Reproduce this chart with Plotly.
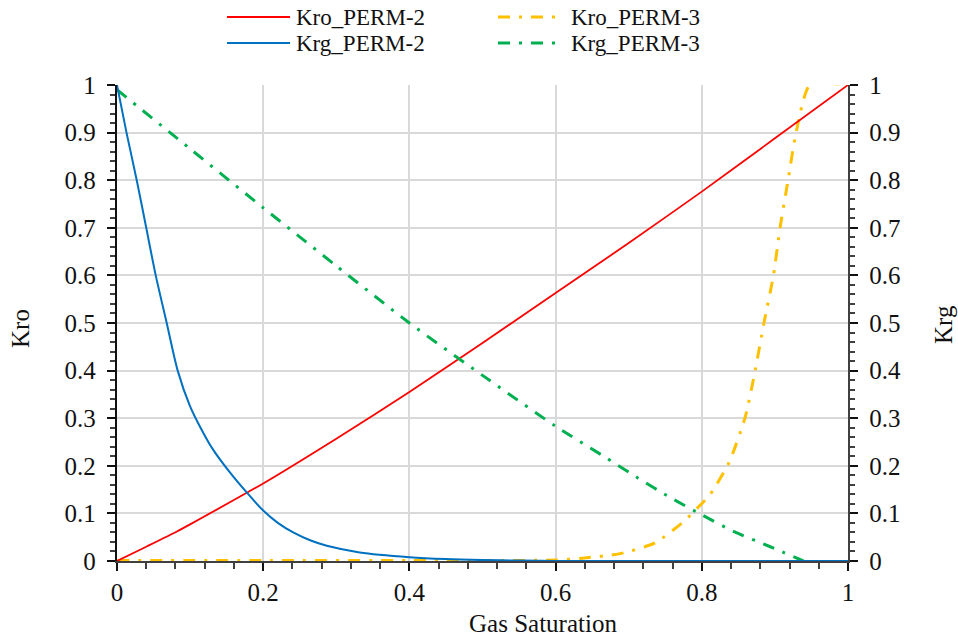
import plotly.graph_objects as go

# Gas saturation sample points and relative permeability curves
sg_kro2 = [0.0, 0.04, 0.082, 0.1, 0.2, 0.3, 0.4, 0.5, 0.6, 0.7, 0.8, 0.9, 1.0]
kro_perm2 = [0.0, 0.03, 0.062, 0.077, 0.163, 0.257, 0.355, 0.458, 0.563, 0.668, 0.776, 0.888, 1.0]

sg_krg2 = [0.0, 0.013, 0.027, 0.04, 0.053, 0.068, 0.083, 0.1, 0.115, 0.131, 0.155, 0.178, 0.2,
           0.22, 0.241, 0.265, 0.287, 0.332, 0.4, 0.45, 0.5, 0.55, 0.6, 0.7, 0.8, 0.9, 1.0]
krg_perm2 = [1.0, 0.9, 0.8, 0.7, 0.6, 0.5, 0.4, 0.325, 0.278, 0.235, 0.185, 0.143, 0.106,
             0.08, 0.06, 0.043, 0.032, 0.018, 0.008, 0.004, 0.002, 0.001, 0.0, 0.0, 0.0, 0.0, 0.0]

sg_kro3 = [0.0, 0.2, 0.4, 0.6, 0.637, 0.687, 0.736, 0.776, 0.795, 0.811, 0.837, 0.859,
           0.873, 0.885, 0.898, 0.907, 0.918, 0.929, 0.948, 1.0]
kro_perm3 = [0.001, 0.001, 0.001, 0.002, 0.006, 0.015, 0.038, 0.084, 0.113, 0.139, 0.206, 0.3,
             0.4, 0.5, 0.6, 0.7, 0.8, 0.9, 1.0, 1.0]

sg_krg3 = [0.0, 0.1, 0.2, 0.3, 0.4, 0.5, 0.6, 0.67, 0.713, 0.756, 0.8, 0.845, 0.892, 0.939]
krg_perm3 = [0.99, 0.866, 0.742, 0.62, 0.5, 0.39, 0.283, 0.216, 0.174, 0.134, 0.097, 0.061, 0.031, 0.0]

series_names = ["Kro_PERM-2", "Krg_PERM-2", "Kro_PERM-3", "Krg_PERM-3"]
colors = ["#FF0000", "#0070C0", "#FFC000", "#00B050"]

FONT = "Liberation Serif"
TICK_SIZE = 25
TEXT_SIZE = 25
LEGEND_SIZE = 23
DASHDOT = "12px,9px,3px,9px"
NBSP = "\u00a0"

fig = go.Figure()
fig.add_trace(go.Scatter(x=sg_kro3, y=kro_perm3, mode="lines", name=series_names[2],
                         line=dict(color=colors[2], width=3, dash=DASHDOT,
                                   shape="spline", smoothing=0.6), yaxis="y"))
fig.add_trace(go.Scatter(x=sg_krg3, y=krg_perm3, mode="lines", name=series_names[3],
                         line=dict(color=colors[3], width=3, dash=DASHDOT,
                                   shape="spline", smoothing=0.6), yaxis="y2"))
fig.add_trace(go.Scatter(x=sg_kro2, y=kro_perm2, mode="lines", name=series_names[0],
                         line=dict(color=colors[0], width=1.8, shape="spline",
                                   smoothing=0.6), yaxis="y"))
fig.add_trace(go.Scatter(x=sg_krg2, y=krg_perm2, mode="lines", name=series_names[1],
                         line=dict(color=colors[1], width=2, shape="spline",
                                   smoothing=0.8), yaxis="y2"))

axis_common = dict(
    range=[0, 1], showline=True, linewidth=2, zeroline=False,
    ticks="outside", ticklen=8, tickwidth=2,
    tickfont=dict(family=FONT, size=TICK_SIZE, color="#111"),
)


def minor_ticks(step, length):
    return dict(dtick=step, ticks="outside", ticklen=length, tickcolor="#404040")


# overlay axes that only draw the inner half of the major tick marks
inner_ticks = dict(range=[0, 1], ticks="inside", ticklen=6, tickwidth=2, tickcolor="#111",
                   showticklabels=False, showgrid=False, showline=False, zeroline=False)

fig.update_layout(
    width=958, height=639,
    margin=dict(l=117, r=110, t=85, b=78),
    paper_bgcolor="white", plot_bgcolor="white",
    showlegend=False,
    font=dict(family=FONT, size=TEXT_SIZE, color="#111"),
    xaxis=dict(**axis_common, dtick=0.2, linecolor="#404040", tickcolor="#111",
               showgrid=True, gridcolor="#D9D9D9", gridwidth=1.5,
               minor=minor_ticks(0.04, 6)),
    yaxis=dict(**axis_common, dtick=0.1, linecolor="#111", tickcolor="#111",
               showgrid=True, gridcolor="#D9D9D9", gridwidth=1.5,
               minor=minor_ticks(0.02, 5), ticksuffix=NBSP),
    yaxis2=dict(**axis_common, dtick=0.1, overlaying="y", side="right",
                linecolor="#404040", tickcolor="#111", showgrid=False,
                minor=minor_ticks(0.02, 5), tickprefix=NBSP),
    xaxis2=dict(**inner_ticks, dtick=0.2, overlaying="x", side="bottom", anchor="y"),
    yaxis3=dict(**inner_ticks, dtick=0.1, overlaying="y", side="left", anchor="x"),
    yaxis4=dict(**inner_ticks, dtick=0.1, overlaying="y", side="right", anchor="x"),
)

# Axis titles
fig.add_annotation(text="Gas Saturation", xref="paper", yref="paper",
                   x=(543 - 117) / 731, y=-(623 - 561) / 476, showarrow=False,
                   font=dict(family=FONT, size=TEXT_SIZE, color="#111"),
                   xanchor="center", yanchor="middle")
fig.add_annotation(text="Kro", xref="paper", yref="paper",
                   x=(20 - 117) / 731, y=(561 - 328) / 476, showarrow=False, textangle=-90,
                   font=dict(family=FONT, size=TEXT_SIZE, color="#111"),
                   xanchor="center", yanchor="middle")
fig.add_annotation(text="Krg", xref="paper", yref="paper",
                   x=(943 - 117) / 731, y=(561 - 325) / 476, showarrow=False, textangle=-90,
                   font=dict(family=FONT, size=TEXT_SIZE, color="#111"),
                   xanchor="center", yanchor="middle")

# Two-column legend above the plot
def px_x(v):
    return (v - 117) / 731


def px_y(v):
    return (561 - v) / 476


legend_items = [
    (series_names[0], colors[0], "solid", 1.8, 227, 290, 294, 17),
    (series_names[1], colors[1], "solid", 2, 227, 290, 294, 43),
    (series_names[2], colors[2], DASHDOT, 3, 498, 558, 569, 17),
    (series_names[3], colors[3], DASHDOT, 3, 498, 558, 569, 43),
]
for name, col, dash, w, sx0, sx1, tx, ty in legend_items:
    fig.add_shape(type="line", xref="paper", yref="paper",
                  x0=px_x(sx0), x1=px_x(sx1), y0=px_y(ty), y1=px_y(ty),
                  line=dict(color=col, width=w, dash=dash))
    fig.add_annotation(text=name, xref="paper", yref="paper", x=px_x(tx), y=px_y(ty),
                       showarrow=False, xanchor="left", yanchor="middle",
                       font=dict(family=FONT, size=LEGEND_SIZE, color="#111"))

fig.write_html("out.html")
